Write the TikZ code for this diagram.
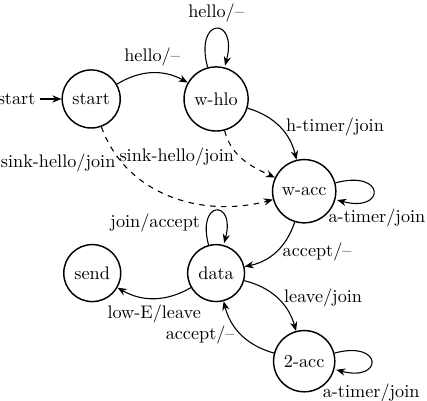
\documentclass[tikz,border=0pt]{standalone}
\usetikzlibrary{automata,arrows.meta,positioning}

\begin{document}
\begin{tikzpicture}[>={Stealth[length=5pt,width=4pt]}, auto, semithick,
    every state/.style={draw, thick, inner sep=4pt, minimum size=0pt}]
    \useasboundingbox (0,0) rectangle (8.24,-7.72);
    \node[state] (start) at (1.76,-1.91) {start};
    \node[state] (whlo) at (4.17,-1.91) {w-hlo};
    \node[state] (wacc) at (5.87,-3.69) {w-acc};
    \node[state] (data) at (4.17,-5.27) {data};
    \node[state] (send) at (1.78,-5.27) {send};
    \node[state] (acc2) at (5.87,-6.97) {2-acc};
    \node[inner sep=2pt, left=12pt of start] (init) {start};

    \draw[->] (init) -- (start);
    \path[->] (start) edge[bend left] node {hello/--} (whlo)
        (whlo) edge[loop above] node {hello/--} ()
        (whlo) edge[bend left] node[right] {h-timer/join} (wacc)
        (whlo) edge[dashed, out=-75, in=155] node[left, pos=0.45] {sink-hello/join} (wacc)
        (start) edge[dashed, out=-70, in=195] node[left, pos=0.2] {sink-hello/join} (wacc)
        (wacc) edge[loop right] node[below=6pt, xshift=2pt] {a-timer/join} ()
        (wacc) edge[bend left] node[right] {accept/--} (data)
        (data) edge[loop above] node[left, pos=0.2] {join/accept} ()
        (data) edge[bend left] node {low-E/leave} (send)
        (data) edge[bend left] node[right] {leave/join} (acc2)
        (acc2) edge[bend left] node[left] {accept/--} (data)
        (acc2) edge[loop right] node[below=9pt] {a-timer/join} ();
\end{tikzpicture}
\end{document}
